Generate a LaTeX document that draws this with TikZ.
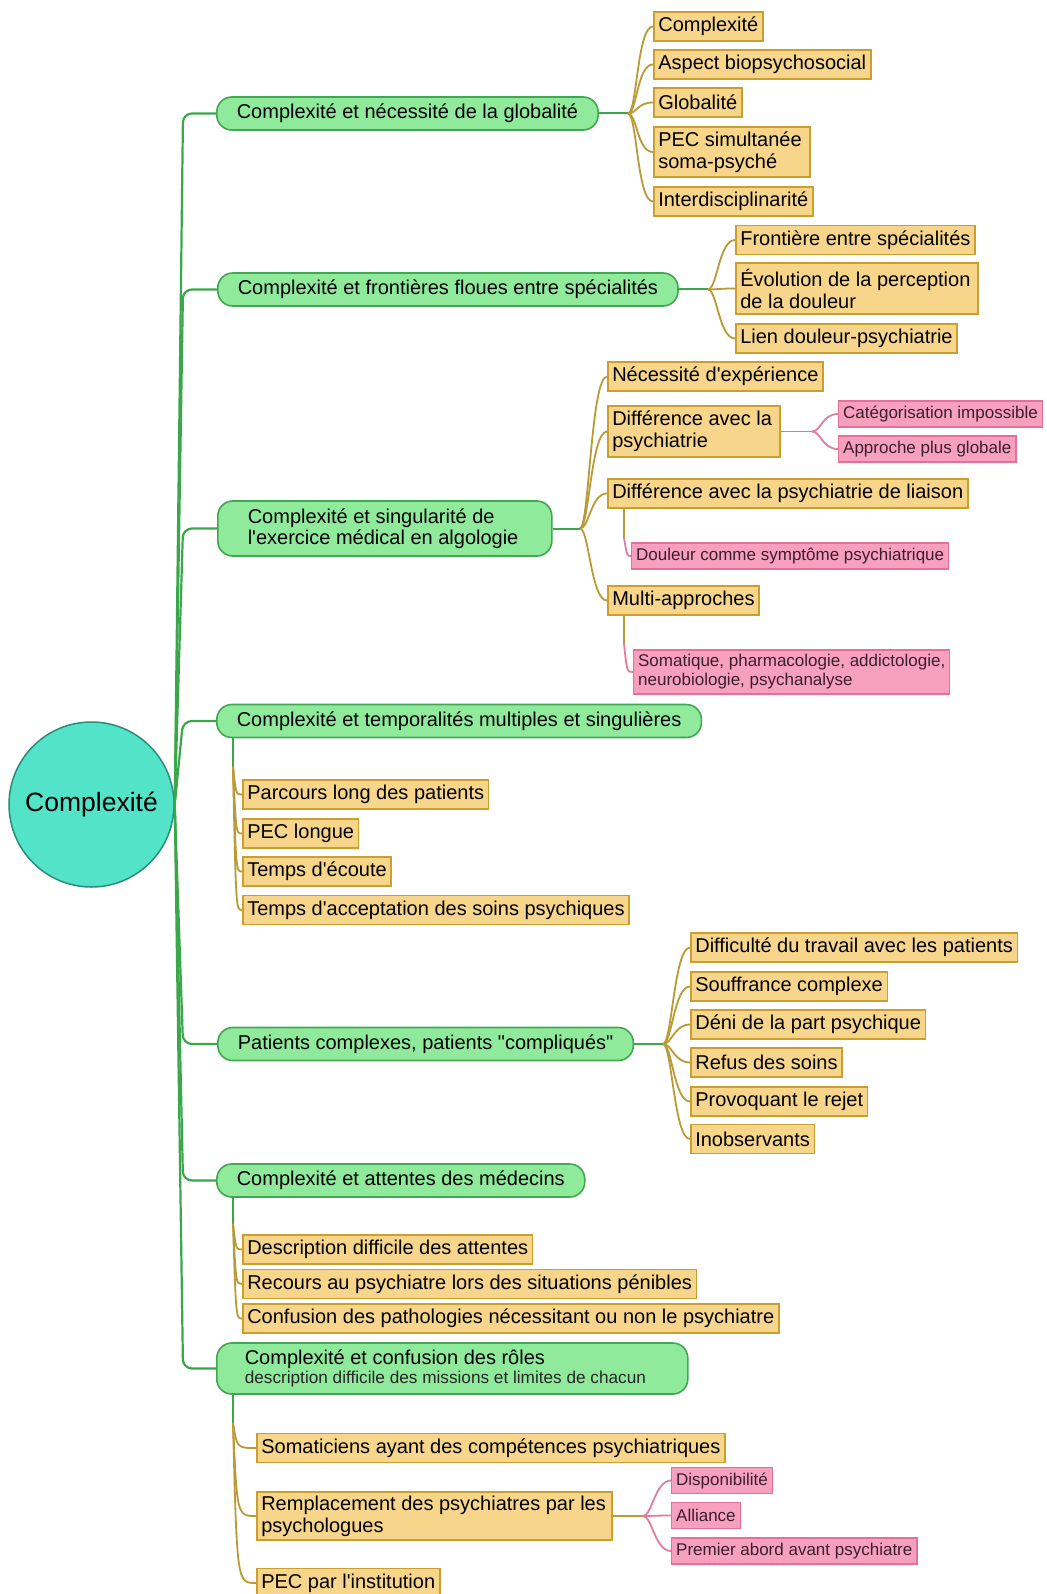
\documentclass[tikz,border=0pt]{standalone}
\usepackage{fontspec}
\setmainfont{Liberation Sans}[Ligatures={CommonOff,TeXOff}]
\usetikzlibrary{calc}
\definecolor{gF}{HTML}{8FEB9B}
\definecolor{gB}{HTML}{43A652}
\definecolor{gL}{HTML}{3AA84A}
\definecolor{yF}{HTML}{F7D68C}
\definecolor{yB}{HTML}{C9A030}
\definecolor{yL}{HTML}{BA9A36}
\definecolor{pF}{HTML}{F7A0BD}
\definecolor{pB}{HTML}{E4709A}
\definecolor{pL}{HTML}{E07CA0}
\definecolor{pT}{HTML}{3B1E2E}
\definecolor{cF}{HTML}{52E3C9}
\definecolor{cB}{HTML}{2D8C78}
\begin{document}
\begin{tikzpicture}[x=1pt,y=-1pt,
  gbox/.style={draw=gB, fill=gF, line width=1.6pt, rounded corners=15pt, font=\fontsize{20}{21.5}\selectfont, inner xsep=20pt, inner ysep=3pt, minimum height=33pt, anchor=west, align=flush left, text=black},
  ybox/.style={draw=yB, fill=yF, line width=1.6pt, font=\fontsize{20}{22}\selectfont, inner xsep=4.5pt, inner ysep=2pt, minimum height=29pt, anchor=west, align=flush left, text=black},
  pbox/.style={draw=pB, fill=pF, line width=1.3pt, font=\fontsize{17}{19}\selectfont, inner xsep=4.5pt, inner ysep=1.5pt, minimum height=26pt, anchor=west, align=flush left, text=pT},
  gline/.style={draw=gL, line width=2pt},
  yline/.style={draw=yL, line width=1.8pt},
  pline/.style={draw=pL, line width=1.8pt}]
\fill[white] (0,0) rectangle (1046,1594);
\useasboundingbox (0,0) rectangle (1046,1594);

% root
\node[circle, draw=cB, fill=cF, line width=1.5pt, minimum size=165pt, inner sep=0pt, font=\fontsize{26.5}{28}\selectfont] (root) at (91.5,804.5) {Complexité};

% main branches
\node[gbox] (g1) at (216,113.5) {Complexité et nécessité de la globalité};
\node[gbox] (g2) at (217,289.5) {Complexité et frontières floues entre spécialités};
\node[gbox, inner xsep=30pt, text width=274pt, minimum height=55pt] (g3) at (217,528.5) {Complexité et singularité de\\l'exercice médical en algologie};
\node[gbox] (g4) at (216,721) {Complexité et temporalités multiples et singulières};
\node[gbox] (g5) at (217,1044) {Patients complexes, patients "compliqués"};
\node[gbox] (g6) at (216,1180.5) {Complexité et attentes des médecins};
\node[gbox, inner xsep=28pt, text width=415pt, minimum height=51pt] (g7) at (216,1368.5) {Complexité et confusion des rôles\\[-2.5pt]{\fontsize{17.2}{18}\selectfont\color{black!85}description difficile des missions et limites de chacun}};

% trunk
\coordinate (tk) at (183,0);
\foreach \g in {g1,g2,g3,g4,g5,g6,g7}
  \draw[gline, line width=2.2pt, rounded corners=9pt] (root.east) -- (tk |- \g.west) -- (\g.west);

% group 1
\node[ybox] (y1a) at (653,26.5) {Complexité};
\node[ybox] (y1b) at (653,64.5) {Aspect biopsychosocial};
\node[ybox] (y1c) at (653,102.5) {Globalité};
\node[ybox, text width=147pt, minimum height=50pt] (y1d) at (653,152) {PEC simultanée\\soma-psyché};
\node[ybox] (y1e) at (653,201.5) {Interdisciplinarité};
\coordinate (h1) at (628,0 |- g1.east);
\draw[gline] (g1.east) -- (h1);
\foreach \c in {y1a,y1b,y1c,y1d,y1e}
  \draw[yline] (h1) .. controls ([xshift=9pt]h1) and ([xshift=-16pt]\c.west) .. (\c.west);

% group 2
\node[ybox] (y2a) at (735,240) {Frontière entre spécialités};
\node[ybox, text width=233pt, minimum height=51pt] (y2b) at (735,288.5) {Évolution de la perception\\de la douleur};
\node[ybox] (y2c) at (735,338.5) {Lien douleur-psychiatrie};
\coordinate (h2) at (708,0 |- g2.east);
\draw[gline] (g2.east) -- (h2);
\foreach \c in {y2a,y2b,y2c}
  \draw[yline] (h2) .. controls ([xshift=9pt]h2) and ([xshift=-16pt]\c.west) .. (\c.west);

% group 3
\node[ybox] (y3a) at (607,376.5) {Nécessité d'expérience};
\node[ybox, text width=163pt, minimum height=51pt] (y3b) at (607,431.5) {Différence avec la\\psychiatrie};
\node[ybox] (y3c) at (607,493.5) {Différence avec la psychiatrie de liaison};
\node[ybox] (y3d) at (607,600.5) {Multi-approches};
\coordinate (h3) at (580,0 |- g3.east);
\draw[gline] (g3.east) -- (h3);
\foreach \c in {y3a,y3b,y3c,y3d}
  \draw[yline] (h3) .. controls ([xshift=9pt]h3) and ([xshift=-16pt]\c.west) .. (\c.west);

\node[pbox] (p3a) at (838,414) {Catégorisation impossible};
\node[pbox] (p3b) at (838,449) {Approche plus globale};
\coordinate (h3b) at (812,0 |- y3b.east);
\draw[yline] (y3b.east) -- (h3b);
\foreach \c in {p3a,p3b}
  \draw[pline] (h3b) .. controls ([xshift=9pt]h3b) and ([xshift=-16pt]\c.west) .. (\c.west);

\node[pbox] (p3c) at (631,556) {Douleur comme symptôme psychiatrique};
\coordinate (s3ca) at ([xshift=17pt]y3c.south west);
\coordinate (s3c) at ([yshift=-29pt]s3ca);
\draw[yline] (s3ca) -- (s3c);
\draw[pline] (s3c) .. controls ($(s3c |- p3c.west)+(3,0)$) .. (p3c.west);

\node[pbox, minimum height=44pt] (p3d) at (633,672) {Somatique, pharmacologie, addictologie,\\neurobiologie, psychanalyse};
\coordinate (s3da) at ([xshift=17pt]y3d.south west);
\coordinate (s3d) at ([yshift=-28pt]s3da);
\draw[yline] (s3da) -- (s3d);
\draw[pline] (s3d) .. controls ($(s3d |- p3d.west)+(3,0)$) .. (p3d.west);

% group 4
\node[ybox] (y4a) at (242,794.5) {Parcours long des patients};
\node[ybox] (y4b) at (242,833.5) {PEC longue};
\node[ybox] (y4c) at (242,871.5) {Temps d'écoute};
\node[ybox] (y4d) at (242,910) {Temps d'acceptation des soins psychiques};
\coordinate (s4a) at ([xshift=17pt]g4.south west);
\coordinate (s4) at ([yshift=-28pt]s4a);
\draw[gline] (s4a) -- (s4);
\foreach \c in {y4a,y4b,y4c,y4d}
  \draw[yline] (s4) .. controls ($(s4 |- \c.west)+(3,0)$) .. (\c.west);

% group 5
\node[ybox] (y5a) at (690,947.5) {Difficulté du travail avec les patients};
\node[ybox] (y5b) at (690,986.5) {Souffrance complexe};
\node[ybox] (y5c) at (690,1024.5) {Déni de la part psychique};
\node[ybox] (y5d) at (690,1062.5) {Refus des soins};
\node[ybox] (y5e) at (690,1101.5) {Provoquant le rejet};
\node[ybox] (y5f) at (690,1139) {Inobservants};
\coordinate (h5) at (663,0 |- g5.east);
\draw[gline] (g5.east) -- (h5);
\foreach \c in {y5a,y5b,y5c,y5d,y5e,y5f}
  \draw[yline] (h5) .. controls ([xshift=9pt]h5) and ([xshift=-16pt]\c.west) .. (\c.west);

% group 6
\node[ybox] (y6a) at (242,1249.5) {Description difficile des attentes};
\node[ybox] (y6b) at (242,1284) {Recours au psychiatre lors des situations pénibles};
\node[ybox] (y6c) at (242,1318.5) {Confusion des pathologies nécessitant ou non le psychiatre};
\coordinate (s6a) at ([xshift=17pt]g6.south west);
\coordinate (s6) at ([yshift=-26pt]s6a);
\draw[gline] (s6a) -- (s6);
\foreach \c in {y6a,y6b,y6c}
  \draw[yline] (s6) .. controls ($(s6 |- \c.west)+(3,0)$) .. (\c.west);

% group 7
\node[ybox] (y7a) at (256,1448) {Somaticiens ayant des compétences psychiatriques};
\node[ybox, text width=346pt, minimum height=48pt] (y7b) at (256,1516) {Remplacement des psychiatres par les\\psychologues};
\node[ybox] (y7c) at (256,1583) {PEC par l'institution};
\coordinate (s7a) at ([xshift=17pt]g7.south west);
\coordinate (s7) at ([yshift=-28pt]s7a);
\draw[gline] (s7a) -- (s7);
\foreach \c in {y7a,y7b,y7c}
  \draw[yline] (s7) .. controls ($(s7 |- \c.west)+(4,0)$) .. (\c.west);

\node[pbox] (p7a) at (671,1480.5) {Disponibilité};
\node[pbox] (p7b) at (671,1515.5) {Alliance};
\node[pbox] (p7c) at (671,1551) {Premier abord avant psychiatre};
\coordinate (h7b) at (643,0 |- y7b.east);
\draw[yline] (y7b.east) -- (h7b);
\foreach \c in {p7a,p7b,p7c}
  \draw[pline] (h7b) .. controls ([xshift=9pt]h7b) and ([xshift=-16pt]\c.west) .. (\c.west);
\end{tikzpicture}
\end{document}
